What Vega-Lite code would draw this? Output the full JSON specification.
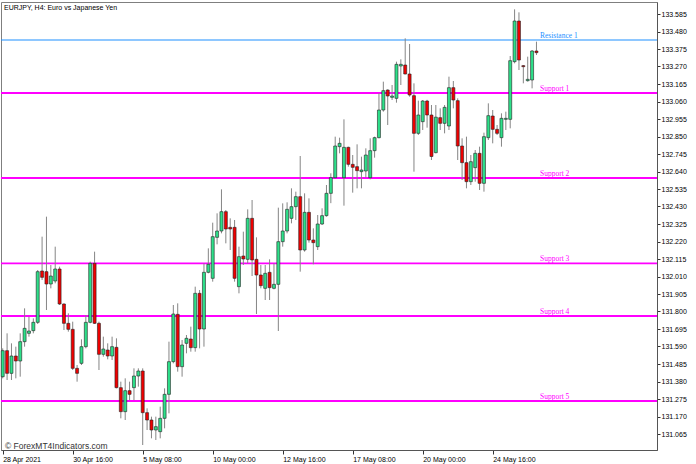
{
  "$schema": "https://vega.github.io/schema/vega-lite/v6.json",
  "width": 656,
  "height": 448,
  "autosize": {"type": "none"},
  "padding": {"left": 1, "top": 2, "right": 39, "bottom": 14},
  "background": "white",
  "title": {
    "text": "EURJPY, H4:  Euro vs Japanese Yen",
    "anchor": "start",
    "frame": "group",
    "offset": -9,
    "dx": 3,
    "fontSize": 7,
    "fontWeight": "normal",
    "font": "Liberation Sans",
    "color": "#000000"
  },
  "config": {
    "view": {"stroke": "#7f7f7f", "strokeWidth": 1},
    "font": "Liberation Sans",
    "axis": {"title": null, "grid": false, "labelOverlap": false}
  },
  "datasets": {
    "bars": [
      {"i":0,"o":131.409,"h":131.579,"l":131.399,"c":131.565},
      {"i":1,"o":131.565,"h":131.669,"l":131.389,"c":131.429},
      {"i":2,"o":131.429,"h":131.609,"l":131.389,"c":131.533},
      {"i":3,"o":131.533,"h":131.589,"l":131.399,"c":131.503},
      {"i":4,"o":131.503,"h":131.669,"l":131.409,"c":131.619},
      {"i":5,"o":131.619,"h":131.819,"l":131.589,"c":131.699},
      {"i":6,"o":131.669,"h":131.769,"l":131.649,"c":131.683},
      {"i":7,"o":131.685,"h":131.759,"l":131.669,"c":131.735},
      {"i":8,"o":131.735,"h":132.049,"l":131.725,"c":132.039},
      {"i":9,"o":132.043,"h":132.249,"l":131.989,"c":132.005},
      {"i":10,"o":132.039,"h":132.369,"l":131.809,"c":131.965},
      {"i":11,"o":131.965,"h":132.079,"l":131.939,"c":132.013},
      {"i":12,"o":131.983,"h":132.189,"l":131.969,"c":132.055},
      {"i":13,"o":132.055,"h":132.069,"l":131.839,"c":131.845},
      {"i":14,"o":131.845,"h":131.849,"l":131.689,"c":131.729},
      {"i":15,"o":131.729,"h":131.789,"l":131.679,"c":131.693},
      {"i":16,"o":131.693,"h":131.739,"l":131.449,"c":131.459},
      {"i":17,"o":131.459,"h":131.479,"l":131.379,"c":131.429},
      {"i":18,"o":131.489,"h":131.633,"l":131.479,"c":131.589},
      {"i":19,"o":131.589,"h":131.779,"l":131.579,"c":131.735},
      {"i":20,"o":131.735,"h":132.099,"l":131.729,"c":132.089},
      {"i":21,"o":132.089,"h":132.159,"l":131.725,"c":131.729},
      {"i":22,"o":131.729,"h":131.739,"l":131.449,"c":131.543},
      {"i":23,"o":131.543,"h":131.649,"l":131.529,"c":131.575},
      {"i":24,"o":131.569,"h":131.609,"l":131.513,"c":131.533},
      {"i":25,"o":131.533,"h":131.649,"l":131.509,"c":131.589},
      {"i":26,"o":131.585,"h":131.639,"l":131.339,"c":131.343},
      {"i":27,"o":131.343,"h":131.379,"l":131.159,"c":131.199},
      {"i":28,"o":131.199,"h":131.399,"l":131.149,"c":131.325},
      {"i":29,"o":131.325,"h":131.379,"l":131.269,"c":131.303},
      {"i":30,"o":131.343,"h":131.459,"l":131.269,"c":131.413},
      {"i":31,"o":131.413,"h":131.459,"l":131.349,"c":131.443},
      {"i":32,"o":131.443,"h":131.459,"l":130.999,"c":131.193},
      {"i":33,"o":131.193,"h":131.219,"l":131.089,"c":131.149},
      {"i":34,"o":131.149,"h":131.169,"l":131.039,"c":131.089},
      {"i":35,"o":131.089,"h":131.169,"l":131.029,"c":131.109},
      {"i":36,"o":131.079,"h":131.229,"l":131.039,"c":131.159},
      {"i":37,"o":131.159,"h":131.339,"l":131.099,"c":131.303},
      {"i":38,"o":131.303,"h":131.619,"l":131.189,"c":131.499},
      {"i":39,"o":131.499,"h":131.839,"l":131.489,"c":131.785},
      {"i":40,"o":131.783,"h":131.849,"l":131.439,"c":131.469},
      {"i":41,"o":131.469,"h":131.629,"l":131.409,"c":131.599},
      {"i":42,"o":131.609,"h":131.659,"l":131.549,"c":131.639},
      {"i":43,"o":131.635,"h":131.709,"l":131.559,"c":131.583},
      {"i":44,"o":131.583,"h":131.949,"l":131.559,"c":131.909},
      {"i":45,"o":131.909,"h":131.929,"l":131.579,"c":131.695},
      {"i":46,"o":131.695,"h":132.089,"l":131.589,"c":132.035},
      {"i":47,"o":132.035,"h":132.179,"l":132.029,"c":132.083},
      {"i":48,"o":131.999,"h":132.333,"l":131.979,"c":132.249},
      {"i":49,"o":132.245,"h":132.389,"l":132.203,"c":132.283},
      {"i":50,"o":132.283,"h":132.533,"l":132.269,"c":132.399},
      {"i":51,"o":132.399,"h":132.409,"l":132.209,"c":132.295},
      {"i":52,"o":132.305,"h":132.359,"l":132.169,"c":132.295},
      {"i":53,"o":132.305,"h":132.349,"l":131.979,"c":131.999},
      {"i":54,"o":131.949,"h":132.189,"l":131.909,"c":132.129},
      {"i":55,"o":132.133,"h":132.279,"l":132.079,"c":132.115},
      {"i":56,"o":132.113,"h":132.413,"l":132.089,"c":132.359},
      {"i":57,"o":132.359,"h":132.469,"l":132.013,"c":132.109},
      {"i":58,"o":132.113,"h":132.245,"l":131.785,"c":132.019},
      {"i":59,"o":132.019,"h":132.079,"l":131.939,"c":131.955},
      {"i":60,"o":131.939,"h":132.079,"l":131.869,"c":132.029},
      {"i":61,"o":132.035,"h":132.113,"l":131.869,"c":131.943},
      {"i":62,"o":131.939,"h":132.089,"l":131.933,"c":131.963},
      {"i":63,"o":131.963,"h":132.423,"l":131.683,"c":132.219},
      {"i":64,"o":132.219,"h":132.449,"l":132.189,"c":132.283},
      {"i":65,"o":132.283,"h":132.455,"l":132.269,"c":132.413},
      {"i":66,"o":132.359,"h":132.539,"l":132.329,"c":132.429},
      {"i":67,"o":132.429,"h":132.519,"l":132.349,"c":132.489},
      {"i":68,"o":132.489,"h":132.733,"l":132.039,"c":132.169},
      {"i":69,"o":132.169,"h":132.509,"l":132.159,"c":132.395},
      {"i":70,"o":132.395,"h":132.479,"l":132.213,"c":132.229},
      {"i":71,"o":132.229,"h":132.299,"l":132.083,"c":132.213},
      {"i":72,"o":132.189,"h":132.379,"l":132.169,"c":132.325},
      {"i":73,"o":132.325,"h":132.419,"l":132.319,"c":132.375},
      {"i":74,"o":132.375,"h":132.559,"l":132.369,"c":132.509},
      {"i":75,"o":132.509,"h":132.629,"l":132.45,"c":132.603},
      {"i":76,"o":132.603,"h":132.849,"l":132.599,"c":132.793},
      {"i":77,"o":132.789,"h":132.843,"l":132.749,"c":132.809},
      {"i":78,"o":132.603,"h":132.953,"l":132.435,"c":132.785},
      {"i":79,"o":132.785,"h":132.789,"l":132.669,"c":132.683},
      {"i":80,"o":132.683,"h":132.739,"l":132.513,"c":132.665},
      {"i":81,"o":132.669,"h":132.803,"l":132.539,"c":132.645},
      {"i":82,"o":132.639,"h":132.729,"l":132.539,"c":132.649},
      {"i":83,"o":132.643,"h":132.779,"l":132.603,"c":132.739},
      {"i":84,"o":132.603,"h":132.839,"l":132.593,"c":132.765},
      {"i":85,"o":132.765,"h":132.849,"l":132.723,"c":132.843},
      {"i":86,"o":132.843,"h":133.109,"l":132.839,"c":133.009},
      {"i":87,"o":133.009,"h":133.179,"l":132.999,"c":133.125},
      {"i":88,"o":133.129,"h":133.133,"l":132.919,"c":133.093},
      {"i":89,"o":133.085,"h":133.159,"l":133.069,"c":133.093},
      {"i":90,"o":133.079,"h":133.299,"l":133.053,"c":133.283},
      {"i":91,"o":133.273,"h":133.313,"l":133.159,"c":133.283},
      {"i":92,"o":133.279,"h":133.439,"l":133.223,"c":133.225},
      {"i":93,"o":133.225,"h":133.405,"l":133.089,"c":133.099},
      {"i":94,"o":133.095,"h":133.169,"l":132.639,"c":132.869},
      {"i":95,"o":132.869,"h":133.065,"l":132.859,"c":132.979},
      {"i":96,"o":132.939,"h":133.069,"l":132.889,"c":133.063},
      {"i":97,"o":133.063,"h":133.07,"l":132.903,"c":132.979},
      {"i":98,"o":132.979,"h":133.039,"l":132.709,"c":132.73},
      {"i":99,"o":132.753,"h":133.039,"l":132.749,"c":132.966},
      {"i":100,"o":132.963,"h":133.019,"l":132.889,"c":132.929},
      {"i":101,"o":132.929,"h":133.039,"l":132.869,"c":133.025},
      {"i":102,"o":132.913,"h":133.209,"l":132.889,"c":133.143},
      {"i":103,"o":133.143,"h":133.183,"l":133.019,"c":133.069},
      {"i":104,"o":133.065,"h":133.079,"l":132.709,"c":132.793},
      {"i":105,"o":132.793,"h":132.839,"l":132.589,"c":132.693},
      {"i":106,"o":132.693,"h":132.849,"l":132.539,"c":132.579},
      {"i":107,"o":132.579,"h":132.739,"l":132.559,"c":132.699},
      {"i":108,"o":132.663,"h":132.769,"l":132.579,"c":132.749},
      {"i":109,"o":132.749,"h":132.789,"l":132.529,"c":132.569},
      {"i":110,"o":132.569,"h":132.873,"l":132.519,"c":132.849},
      {"i":111,"o":132.843,"h":133.049,"l":132.829,"c":132.975},
      {"i":112,"o":132.973,"h":133.009,"l":132.809,"c":132.893},
      {"i":113,"o":132.893,"h":132.919,"l":132.859,"c":132.869},
      {"i":114,"o":132.843,"h":132.989,"l":132.789,"c":132.959},
      {"i":115,"o":132.953,"h":132.999,"l":132.889,"c":132.959},
      {"i":116,"o":132.953,"h":133.333,"l":132.899,"c":133.305},
      {"i":117,"o":133.299,"h":133.613,"l":133.289,"c":133.543},
      {"i":118,"o":133.543,"h":133.595,"l":133.249,"c":133.309},
      {"i":119,"o":133.275,"h":133.279,"l":133.169,"c":133.269},
      {"i":120,"o":133.185,"h":133.329,"l":133.179,"c":133.193},
      {"i":121,"o":133.189,"h":133.369,"l":133.139,"c":133.363},
      {"i":122,"o":133.363,"h":133.419,"l":133.339,"c":133.353}
    ],
    "levels": [
      {"name": "Resistance 1", "price": 133.429},
      {"name": "Support 1", "price": 133.111},
      {"name": "Support 2", "price": 132.601},
      {"name": "Support 3", "price": 132.089},
      {"name": "Support 4", "price": 131.773},
      {"name": "Support 5", "price": 131.263}
    ]
  },
  "resolve": {"scale": {"x": "shared", "y": "shared"}},
  "layer": [
    {
      "data": {"name": "levels"},
      "mark": {"type": "rule"},
      "encoding": {
        "y": {
          "field": "price",
          "type": "quantitative",
          "scale": {"domain": [130.969, 133.657], "nice": false, "zero": false, "padding": 0},
          "axis": {
            "orient": "right",
            "title": null,
            "grid": false,
            "values": [131.065, 131.17, 131.275, 131.38, 131.485, 131.59, 131.695, 131.8, 131.905, 132.01, 132.115, 132.22, 132.325, 132.43, 132.535, 132.64, 132.745, 132.85, 132.955, 133.06, 133.165, 133.27, 133.375, 133.48, 133.585],
            "tickCount": 40,
            "format": ".3f",
            "labelOverlap": false,
            "tickSize": 3,
            "tickColor": "#333333",
            "domainColor": "#555555",
            "labelFont": "Liberation Sans",
            "labelFontSize": 7,
            "labelColor": "#000000",
            "labelPadding": 1,
            "labelBaseline": "middle"
          }
        },
        "color": {
          "field": "name",
          "type": "nominal",
          "scale": {
            "domain": ["Resistance 1", "Support 1", "Support 2", "Support 3", "Support 4", "Support 5"],
            "range": ["#1e90ff", "#ff00ff", "#ff00ff", "#ff00ff", "#ff00ff", "#ff00ff"]
          },
          "legend": null
        },
        "strokeWidth": {
          "condition": {"test": "datum.name === 'Resistance 1'", "value": 1.1},
          "value": 1.8
        }
      }
    },
    {
      "data": {"name": "bars"},
      "mark": {"type": "rule", "stroke": "#858585", "strokeWidth": 1},
      "encoding": {
        "x": {
          "field": "i",
          "type": "quantitative",
          "scale": {"domain": [-0.39, 149.55], "nice": false, "zero": false, "padding": 0},
          "axis": {
            "title": null,
            "grid": false,
            "values": [0, 16, 32, 48, 64, 80, 96, 112],
            "tickCount": 40,
            "labelExpr": "['28 Apr 2021', '30 Apr 16:00', '5 May 08:00', '10 May 00:00', '12 May 16:00', '17 May 08:00', '20 May 00:00', '24 May 16:00'][round(datum.value / 16)]",
            "labelAlign": "left",
            "labelBaseline": "top",
            "labelFlush": false,
            "labelOverlap": false,
            "labelFont": "Liberation Sans",
            "labelFontSize": 7,
            "labelColor": "#000000",
            "labelPadding": 1,
            "tickSize": 4,
            "tickColor": "#333333",
            "domainColor": "#555555"
          }
        },
        "y": {"field": "l", "type": "quantitative"},
        "y2": {"field": "h"}
      }
    },
    {
      "data": {"name": "bars"},
      "mark": {"type": "bar", "width": 3, "stroke": "#222222", "strokeWidth": 0.6},
      "encoding": {
        "x": {"field": "i", "type": "quantitative"},
        "y": {"field": "o", "type": "quantitative"},
        "y2": {"field": "c"},
        "fill": {
          "condition": {"test": "datum.c >= datum.o", "value": "#2ee08a"},
          "value": "#f00000"
        }
      }
    },
    {
      "data": {"name": "levels"},
      "mark": {
        "type": "text",
        "align": "left",
        "baseline": "alphabetic",
        "dy": -2,
        "font": "Liberation Serif",
        "fontSize": 7.5
      },
      "encoding": {
        "x": {"datum": 122.8, "type": "quantitative"},
        "y": {"field": "price", "type": "quantitative"},
        "text": {"field": "name"},
        "color": {"field": "name", "type": "nominal", "legend": null}
      }
    },
    {
      "data": {"values": [{"note": "© ForexMT4Indicators.com"}]},
      "mark": {
        "type": "text",
        "align": "left",
        "baseline": "alphabetic",
        "font": "Liberation Sans",
        "fontSize": 8.5,
        "color": "#333333"
      },
      "encoding": {
        "x": {"datum": 0.52, "type": "quantitative"},
        "y": {"datum": 130.977, "type": "quantitative"},
        "text": {"field": "note"}
      }
    }
  ]
}
